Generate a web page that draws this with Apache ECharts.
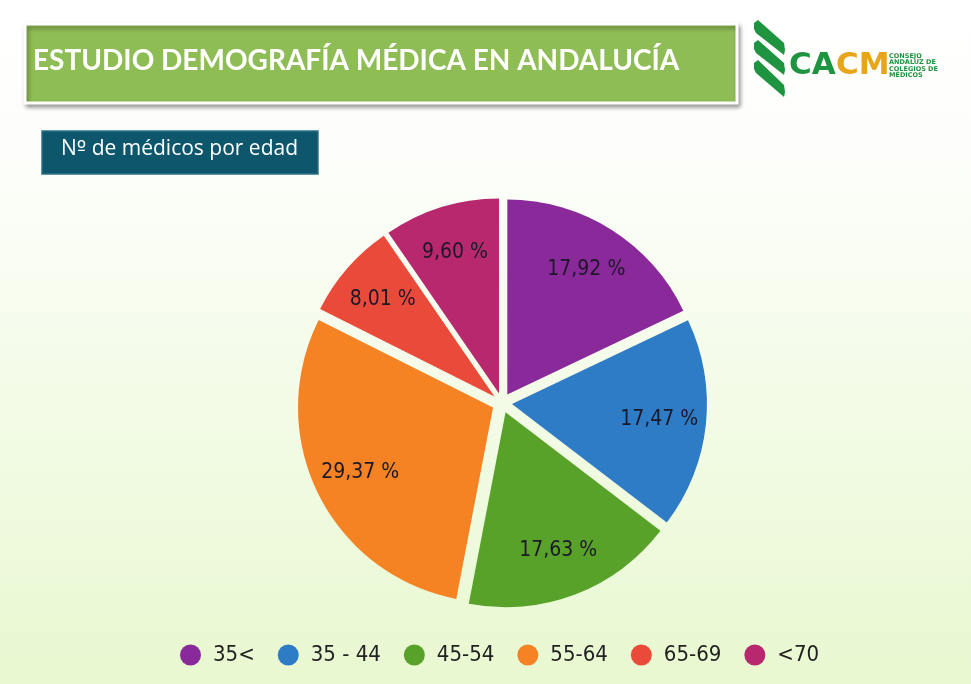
<!DOCTYPE html>
<html>
<head>
<meta charset="utf-8">
<script src="https://cdn.jsdelivr.net/npm/echarts@6/dist/echarts.min.js"></script>
<style>
html,body{margin:0;padding:0;width:971px;height:684px;overflow:hidden;background:#fff;}
#c{width:971px;height:684px;}
</style>
</head>
<body>
<div id="c"></div>
<script>
var categories = ['35<', '35 - 44', '45-54', '55-64', '65-69', '<70'];
var values = [17.92, 17.47, 17.63, 29.37, 8.01, 9.60];
var colors = ['#8a2a9a', '#2f7cc6', '#58a22a', '#f58223', '#ea4a3a', '#b8286e'];
var titleText = 'ESTUDIO DEMOGRAFÍA MÉDICA EN ANDALUCÍA';
var subtitleParts = ['N', 'º', ' de médicos por edad'];

var chart = echarts.init(document.getElementById('c'));

var pieData = categories.map(function (n, i) {
  return { name: n, value: values[i], selected: true, itemStyle: { color: colors[i] } };
});
var labelData = categories.map(function (n, i) {
  return { name: n, value: values[i] };
});

function fmt(v) { return v.toFixed(2).replace('.', ',') + ' %'; }

var stripes = [20, 40, 60].map(function (y, k) {
  var e = k === 2 ? 2 : 0;
  return {
    type: 'polygon',
    shape: { points: [[754, y + 3], [758, y], [784, y + 23 + e], [785, y + 30 + e], [784, y + 35 + e], [756, y + 13], [754, y + 9]] },
    style: { fill: '#1f9440' }
  };
});

var option = {
  backgroundColor: new echarts.graphic.LinearGradient(0, 0, 0, 1, [
    { offset: 0, color: '#ffffff' },
    { offset: 0.22, color: '#fdfefb' },
    { offset: 1, color: '#e8f8d0' }
  ]),
  animation: false,
  legend: {
    bottom: 13,
    left: 175,
    icon: 'circle',
    itemWidth: 21,
    itemHeight: 21,
    itemGap: 23,
    selectedMode: false,
    textStyle: { fontFamily: 'DejaVu Sans Condensed, DejaVu Sans', fontSize: 22, color: '#222222', padding: [0, 0, 0, 7] },
    data: categories.map(function (n, i) { return { name: n, itemStyle: { color: colors[i] } }; })
  },
  graphic: [
    {
      type: 'rect',
      shape: { x: 25, y: 24, width: 712, height: 79 },
      style: { fill: '#8fbd55', stroke: '#ffffff', lineWidth: 3, shadowBlur: 4, shadowColor: 'rgba(0,0,0,0.35)', shadowOffsetX: 2, shadowOffsetY: 3 }
    },
    {
      type: 'text',
      left: 33, top: 47,
      style: { text: titleText, fill: '#ffffff', font: 'bold 28px Lato, "Open Sans", sans-serif' }
    },
    {
      type: 'rect',
      shape: { x: 42, y: 131, width: 276, height: 43 },
      style: { fill: '#0e566c', stroke: '#2e7189', lineWidth: 1.5 }
    },
    {
      type: 'text',
      left: 61, top: 139,
      style: {
        text: '{a|' + subtitleParts[0] + '}{o|' + subtitleParts[1] + '}{a|' + subtitleParts[2] + '}',
        rich: {
          a: { fill: '#ffffff', fontFamily: '"Open Sans", sans-serif', fontSize: 21 },
          o: { fill: '#ffffff', fontFamily: '"DejaVu Sans", sans-serif', fontSize: 20 }
        }
      }
    }
  ].concat(stripes).concat([
    {
      type: 'text', left: 789, top: 50,
      style: { text: 'CA', fill: '#1f9440', font: '900 31px "DejaVu Sans", sans-serif' }
    },
    {
      type: 'text', left: 836, top: 50,
      style: { text: 'CM', fill: '#e9a519', font: '900 31px "DejaVu Sans", sans-serif' }
    },
    {
      type: 'text', left: 889, top: 53,
      style: { text: 'CONSEJO\nANDALUZ DE\nCOLEGIOS DE\nMÉDICOS', fill: '#1f9440', font: 'bold 6.5px "DejaVu Sans", sans-serif', lineHeight: 6.2 }
    }
  ]),
  series: [
    {
      type: 'pie',
      z: 2,
      center: [502, 403],
      radius: 195,
      startAngle: 90,
      clockwise: true,
      selectedMode: 'multiple',
      selectedOffset: 10,
      silent: true,
      label: { show: false },
      labelLine: { show: false },
      itemStyle: { borderWidth: 0 },
      data: pieData
    },
    {
      type: 'pie',
      z: 6,
      center: [502, 403],
      radius: [115, 195],
      startAngle: 90,
      clockwise: true,
      silent: true,
      avoidLabelOverlap: false,
      itemStyle: { color: 'rgba(0,0,0,0)' },
      labelLine: { show: false },
      label: {
        show: true,
        position: 'inside',
        formatter: function (p) { return fmt(p.value); },
        fontFamily: 'DejaVu Sans Condensed, DejaVu Sans',
        fontSize: 21,
        color: '#1c1828'
      },
      data: labelData
    }
  ]
};
chart.setOption(option);
</script>
</body>
</html>
